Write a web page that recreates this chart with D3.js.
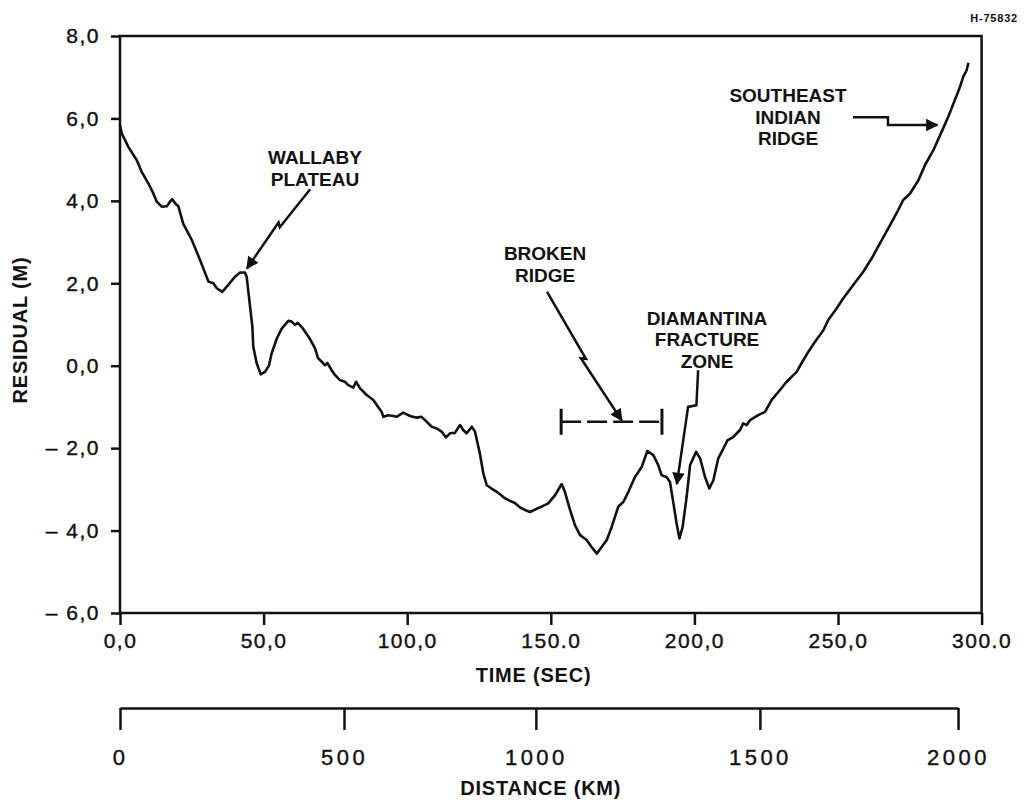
<!DOCTYPE html>
<html>
<head>
<meta charset="utf-8">
<script src="https://cdnjs.cloudflare.com/ajax/libs/d3/7.8.5/d3.min.js"></script>
<style>
body { margin: 0; background: #fff; }
svg { display: block; font-family: "Liberation Sans", Arial, sans-serif; }
.tick text { font-size: 21px; letter-spacing: 1.5px; fill: #111; stroke: #111; stroke-width: 0.4px; }
.km .tick text { font-size: 22px; letter-spacing: 3.5px; }
.lbl { font-size: 19px; font-weight: bold; fill: #111; }
.ttl { font-size: 20px; font-weight: bold; fill: #111; letter-spacing: 0.8px; }
</style>
</head>
<body>
<script>
// altimeter residual along the pass
var timeSec = [0.0, 0.6, 2.9, 5.8, 7.5, 9.9, 11.6, 12.8, 14.5, 16.3, 17.4, 18.2, 19.2, 20.3, 22.0, 25.0, 27.9,
    30.8, 32.5, 33.7, 34.8, 35.6, 37.7, 40.0, 41.8, 43.5, 44.1, 45.3, 46.1, 46.4, 47.6, 49.0, 50.5, 51.9, 52.8,
    54.6, 56.3, 58.6, 59.8, 60.9, 61.9, 63.5, 66.2, 67.9, 69.0, 70.2, 71.4, 72.2, 73.7, 74.9, 76.6, 78.3, 79.5,
    81.2, 82.2, 83.6, 85.9, 88.2, 89.9, 91.1, 91.7, 93.4, 95.2, 96.3, 98.6, 101.0, 103.3, 105.0, 106.8, 108.5,
    110.2, 112.0, 113.5, 114.9, 116.6, 118.4, 119.5, 120.7, 122.5, 123.6, 125.3, 126.5, 127.7, 129.4, 131.2,
    132.3, 134.1, 135.8, 137.5, 139.3, 141.0, 142.8, 144.5, 146.8, 149.1, 151.5, 153.8, 154.9, 156.7, 158.4,
    160.2, 162.5, 164.2, 166.0, 167.7, 169.5, 171.2, 173.5, 175.3, 177.0, 179.3, 181.7, 183.6, 185.7, 187.4,
    188.6, 190.3, 191.5, 192.7, 193.8, 194.8, 195.9, 197.3, 198.5, 200.6, 202.0, 203.7, 205.2, 206.6, 208.3,
    210.1, 211.5, 213.5, 215.9, 217.0, 218.2, 219.4, 222.2, 224.6, 226.9, 229.8, 232.1, 235.6, 237.3, 239.7,
    242.0, 244.9, 246.6, 249.5, 251.8, 255.3, 258.8, 261.7, 264.6, 267.5, 270.4, 272.7, 275.1, 278.0, 280.3,
    283.2, 286.1, 288.4, 290.7, 292.5, 293.6, 294.8, 295.4];
var residualM = [5.84, 5.64, 5.31, 4.99, 4.71, 4.42, 4.18, 3.98, 3.86, 3.87, 3.98, 4.04, 3.94, 3.87, 3.45, 3.05, 2.56,
    2.04, 2.00, 1.88, 1.83, 1.79, 1.96, 2.16, 2.26, 2.26, 2.16, 1.43, 0.94, 0.46, 0.06, -0.21, -0.15, 0.01, 0.30,
    0.66, 0.90, 1.09, 1.07, 0.99, 1.04, 0.92, 0.64, 0.42, 0.18, 0.10, 0.01, 0.07, -0.11, -0.23, -0.35, -0.39, -0.47,
    -0.53, -0.39, -0.55, -0.71, -0.83, -1.00, -1.12, -1.24, -1.20, -1.22, -1.24, -1.14, -1.22, -1.26, -1.24, -1.36, -1.48,
    -1.52, -1.60, -1.74, -1.64, -1.63, -1.44, -1.56, -1.64, -1.48, -1.60, -2.13, -2.61, -2.90, -2.98, -3.06,
    -3.12, -3.22, -3.28, -3.33, -3.44, -3.50, -3.55, -3.49, -3.42, -3.34, -3.14, -2.87, -3.06, -3.50, -3.87,
    -4.11, -4.23, -4.40, -4.56, -4.40, -4.23, -3.91, -3.42, -3.30, -3.06, -2.70, -2.45, -2.07, -2.17, -2.41,
    -2.66, -2.70, -2.82, -3.34, -3.83, -4.19, -3.91, -3.18, -2.41, -2.09, -2.25, -2.70, -2.98, -2.78, -2.25,
    -2.01, -1.81, -1.73, -1.56, -1.40, -1.44, -1.32, -1.20, -1.12, -0.83, -0.59, -0.39, -0.15, 0.06, 0.34,
    0.58, 0.86, 1.11, 1.39, 1.63, 1.96, 2.28, 2.60, 2.97, 3.33, 3.70, 4.02, 4.18, 4.50, 4.87,
    5.23, 5.68, 6.04, 6.45, 6.77, 7.01, 7.17, 7.35];

var yTicks = [8, 6, 4, 2, 0, -2, -4, -6];
var yTickLabels = ["8,0", "6,0", "4,0", "2,0", "0,0", "\u2013 2,0", "\u2013 4,0", "\u2013 6,0"];
var xTicks = [0, 50, 100, 150, 200, 250, 300];
var xTickLabels = ["0,0", "50,0", "100,0", "150.0", "200,0", "250,0", "300.0"];
// distance scale under the time axis (ticks are not evenly spaced on the original)
var kmTicks = [0, 500, 1000, 1500, 2000];
var kmTickTime = [0, 78.0, 144.8, 222.8, 291.8];

// feature labels
var wallabyLines = ["WALLABY", "PLATEAU"];
var brokenLines = ["BROKEN", "RIDGE"];
var diamantinaLines = ["DIAMANTINA", "FRACTURE", "ZONE"];
var seirLines = ["SOUTHEAST", "INDIAN", "RIDGE"];
var brokenSpan = [153.6, 188.7]; // seconds covered by the dashed bracket

window.onload = function () {
    var svg = d3.select("body").append("svg")
        .attr("width", 1030)
        .attr("height", 800);

    svg.append("defs").append("marker")
        .attr("id", "head")
        .attr("viewBox", "0 0 10 10")
        .attr("refX", 9).attr("refY", 5)
        .attr("markerWidth", 6.5).attr("markerHeight", 5)
        .attr("markerUnits", "strokeWidth")
        .attr("orient", "auto")
        .append("path")
        .attr("d", "M0,0L10,5L0,10z")
        .attr("fill", "#111");

    var x = d3.scaleLinear().domain([0, 300]).range([120, 981.6]);
    var y = d3.scaleLinear().domain([-6, 8]).range([613, 36]);
    var dist = d3.scaleLinear().domain(kmTicks).range(kmTickTime.map(function (t) { return x(t); }));

    // frame
    svg.append("rect")
        .attr("x", x(0)).attr("y", y(8))
        .attr("width", x(300) - x(0)).attr("height", y(-6) - y(8))
        .attr("fill", "none").attr("stroke", "#111").attr("stroke-width", 2.5);

    var yAxis = svg.append("g")
        .attr("transform", "translate(" + x(0) + ",0)")
        .call(d3.axisLeft(y).tickValues(yTicks).tickSize(9).tickSizeOuter(0).tickPadding(11)
            .tickFormat(function (d, i) { return yTickLabels[i]; }));

    var xAxis = svg.append("g")
        .attr("transform", "translate(0," + y(-6) + ")")
        .call(d3.axisBottom(x).tickValues(xTicks).tickSize(12).tickSizeOuter(0)
            .tickFormat(function (d, i) { return xTickLabels[i]; }));
    xAxis.selectAll(".tick text").attr("y", 35).attr("dy", 0);

    var kmAxis = svg.append("g")
        .attr("class", "km")
        .attr("transform", "translate(0,708)")
        .call(d3.axisBottom(dist).tickValues(kmTicks).tickSize(22).tickSizeOuter(0)
            .tickFormat(d3.format("d")));
    kmAxis.selectAll(".tick text").attr("y", 57).attr("dy", 0);

    svg.selectAll(".domain, .tick line").attr("stroke", "#111").attr("stroke-width", 2.5);
    yAxis.select(".domain").remove();
    xAxis.select(".domain").remove();
    svg.selectAll(".tick text").attr("font-family", null).attr("font-size", null);

    // axis titles
    svg.append("text").attr("class", "ttl")
        .attr("transform", "translate(27,330) rotate(-90)")
        .attr("text-anchor", "middle")
        .text("RESIDUAL (M)");
    svg.append("text").attr("class", "ttl")
        .attr("x", x(144)).attr("y", 682)
        .attr("text-anchor", "middle")
        .text("TIME (SEC)");
    svg.append("text").attr("class", "ttl")
        .attr("x", x(146.5)).attr("y", 795)
        .attr("text-anchor", "middle")
        .text("DISTANCE (KM)");
    svg.append("text")
        .attr("x", 1018).attr("y", 22)
        .attr("text-anchor", "end")
        .attr("font-size", 11).attr("font-weight", "bold").attr("letter-spacing", 0.8).attr("fill", "#111")
        .text("H-75832");

    // the residual trace
    var line = d3.line()
        .x(function (d) { return x(d[0]); })
        .y(function (d) { return y(d[1]); });
    svg.append("path")
        .datum(d3.zip(timeSec, residualM))
        .attr("d", line)
        .attr("fill", "none")
        .attr("stroke", "#111")
        .attr("stroke-width", 2.6)
        .attr("stroke-linejoin", "round");

    // stacked label lines
    function label(lines, t, r) {
        var tx = svg.append("text").attr("class", "lbl")
            .attr("text-anchor", "middle");
        tx.selectAll("tspan").data(lines).enter().append("tspan")
            .attr("x", x(t))
            .attr("y", function (d, i) { return y(r) + i * 21.5; })
            .text(function (d) { return d; });
    }
    label(wallabyLines, 67.9, 4.89);
    label(brokenLines, 148.0, 2.56);
    label(diamantinaLines, 204.4, 0.99);
    label(seirLines, 232.6, 6.39);

    // leader lines with a small zig part way, like the hand drawn ones
    function bolt(p0, p1, f, off) {
        var a = [x(p0[0]), y(p0[1])], b = [x(p1[0]), y(p1[1])];
        var dx = b[0] - a[0], dy = b[1] - a[1], len = Math.hypot(dx, dy);
        var nx = -dy / len * off, ny = dx / len * off;
        var e = [a[0] + dx * f, a[1] + dy * f];
        var g = [e[0] + nx - dx / len * 3, e[1] + ny - dy / len * 3];
        return [a, e, g, b];
    }
    var leader = d3.line();
    function arrow(pts) {
        svg.append("path")
            .attr("d", leader(pts))
            .attr("fill", "none")
            .attr("stroke", "#111")
            .attr("stroke-width", 2.5)
            .attr("marker-end", "url(#head)");
    }
    arrow(bolt([66.2, 4.28], [44.2, 2.36], 0.48, 4));
    arrow(bolt([148.7, 1.79], [174.7, -1.33], 0.52, 4));
    arrow([[x(201.3), y(-0.11)], [x(200.7), y(-0.96)], [x(197.8), y(-1.0)], [x(193.9), y(-2.87)]]);
    arrow([[x(255.2), y(6.03)], [x(267.4), y(6.03)], [x(267.4), y(5.84)], [x(284.6), y(5.84)]]);

    // dashed bracket for the Broken Ridge extent
    var by = y(-1.36);
    svg.append("line")
        .attr("x1", x(brokenSpan[0])).attr("x2", x(brokenSpan[1]))
        .attr("y1", by).attr("y2", by)
        .attr("stroke", "#111").attr("stroke-width", 2.5)
        .attr("stroke-dasharray", "20,6");
    svg.selectAll(".cap").data(brokenSpan).enter().append("line")
        .attr("class", "cap")
        .attr("x1", function (d) { return x(d); }).attr("x2", function (d) { return x(d); })
        .attr("y1", by - 13).attr("y2", by + 13)
        .attr("stroke", "#111").attr("stroke-width", 3);
};
</script>
</body>
</html>
